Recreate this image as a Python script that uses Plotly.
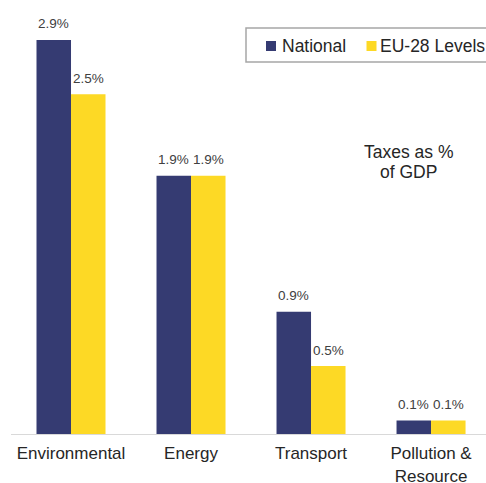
import plotly.graph_objects as go

categories = ["Environmental", "Energy", "Transport", "Pollution &<br>Resource"]
national = [2.9, 1.9, 0.9, 0.1]
eu28 = [2.5, 1.9, 0.5, 0.1]
series_names = ["National", "EU-28 Levels"]
note_lines = ["Taxes as %", "of GDP"]

navy = "#353B72"
yellow = "#FDD925"
FONT = "Liberation Sans, Arial"

W, H = 486, 483
ML, MT, MB = 11, 0, 49
PW = W - ML
PH = H - MT - MB

def px(x):
    return (x - ML) / PW

def py(y):
    return (H - MB - y) / PH

fig = go.Figure()
for name, vals, col in [(series_names[0], national, navy), (series_names[1], eu28, yellow)]:
    fig.add_trace(go.Bar(
        x=categories, y=vals, name=name, marker=dict(color=col, line=dict(width=0)),
        showlegend=False, cliponaxis=False, hoverinfo="skip",
    ))

# value labels
for vals, sh in [(national, -17.25), (eu28, 17.25)]:
    for c, v in zip(categories, vals):
        fig.add_annotation(x=c, y=v, xref="x", yref="y", text=f"{v:.1f}%",
                           showarrow=False, xshift=sh, yshift=16,
                           xanchor="center", yanchor="middle",
                           font=dict(size=13.5, color="#404040", family=FONT))

fig.update_layout(
    width=W, height=H,
    margin=dict(l=ML, r=0, t=MT, b=MB, autoexpand=False),
    paper_bgcolor="white", plot_bgcolor="white",
    barmode="group", bargap=0.425, bargroupgap=0,
    font=dict(family=FONT, color="#262626"),
    xaxis=dict(range=[-0.5, 3.458], showline=True, linecolor="#D9D9D9", linewidth=1,
               showgrid=False, ticks="", tickfont=dict(size=17, color="#262626"),
               ticklabelstandoff=4, tickangle=0, fixedrange=True),
    yaxis=dict(range=[0, 3.194], visible=False, showgrid=False, fixedrange=True),
    showlegend=False,
)

# legend box (manual)
fig.add_shape(type="rect", xref="paper", yref="paper",
              x0=px(246), x1=px(520), y0=py(62), y1=py(28),
              line=dict(color="#A6A6A6", width=1.5), fillcolor="white", layer="above")
for name, col, sx, tx in [(series_names[0], navy, 266, 280), (series_names[1], yellow, 366.5, 378)]:
    fig.add_shape(type="rect", xref="paper", yref="paper",
                  x0=px(sx), x1=px(sx + 10), y0=py(51), y1=py(41),
                  line=dict(width=0), fillcolor=col, layer="above")
    fig.add_annotation(text=name, xref="paper", yref="paper", x=px(tx), y=py(46),
                       xanchor="left", yanchor="middle", showarrow=False,
                       font=dict(size=17.5, color="#262626", family=FONT))

for line, yy in zip(note_lines, [152, 172]):
    fig.add_annotation(text=line, xref="paper", yref="paper", x=px(408.5), y=py(yy),
                       xanchor="center", yanchor="middle", showarrow=False,
                       font=dict(size=17.5, color="#262626", family=FONT))

fig.write_html("out.html", config={"displayModeBar": False},
               post_script="document.body.style.margin='0';")
